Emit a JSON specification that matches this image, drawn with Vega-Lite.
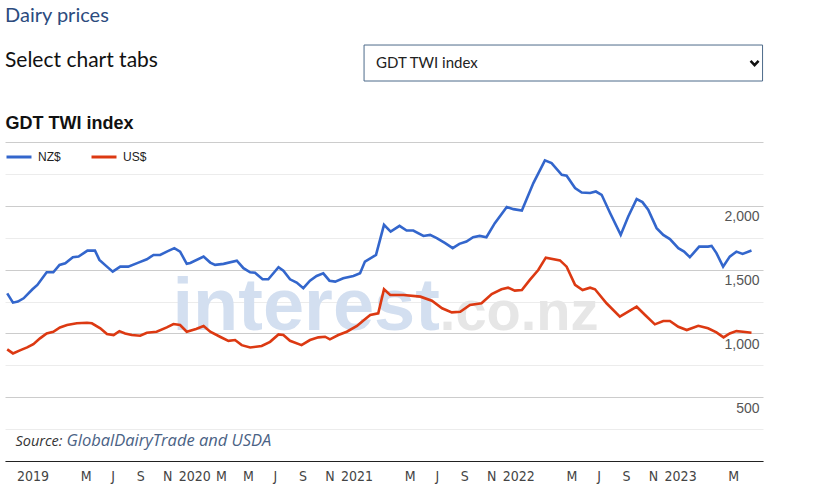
{
"$schema":"https://vega.github.io/schema/vega-lite/v6.json",
"width":758,"height":319,
"autosize":{"type":"none"},
"padding":{"left":5,"top":142,"right":55,"bottom":25},
"background":"white",
"title":{"text":"Dairy prices","subtitle":"Select chart tabs","anchor":"start","frame":"group","font":"Lato","fontSize":20,"fontWeight":"normal","color":"#2c4b7e","subtitleFont":"Lato","subtitleFontSize":21,"subtitleColor":"#111111","subtitlePadding":24,"offset":-26},
"config":{"view":{"stroke":null},"font":"Liberation Sans"},
"datasets":{"prices":[
{"date":"2018-11-05","series":"NZ$","value":1314},{"date":"2018-11-18","series":"NZ$","value":1241},{"date":"2018-11-29","series":"NZ$","value":1249},{"date":"2018-12-12","series":"NZ$","value":1275},{"date":"2019-01-01","series":"NZ$","value":1346},{"date":"2019-01-12","series":"NZ$","value":1380},{"date":"2019-02-02","series":"NZ$","value":1479},{"date":"2019-02-17","series":"NZ$","value":1479},{"date":"2019-03-03","series":"NZ$","value":1537},{"date":"2019-03-16","series":"NZ$","value":1550},{"date":"2019-04-02","series":"NZ$","value":1597},{"date":"2019-04-15","series":"NZ$","value":1602},{"date":"2019-05-05","series":"NZ$","value":1649},{"date":"2019-05-22","series":"NZ$","value":1649},{"date":"2019-06-01","series":"NZ$","value":1576},{"date":"2019-06-16","series":"NZ$","value":1529},{"date":"2019-07-01","series":"NZ$","value":1484},{"date":"2019-07-18","series":"NZ$","value":1523},{"date":"2019-08-05","series":"NZ$","value":1523},{"date":"2019-08-28","series":"NZ$","value":1555},{"date":"2019-09-16","series":"NZ$","value":1581},{"date":"2019-10-01","series":"NZ$","value":1615},{"date":"2019-10-16","series":"NZ$","value":1615},{"date":"2019-10-31","series":"NZ$","value":1641},{"date":"2019-11-17","series":"NZ$","value":1668},{"date":"2019-11-30","series":"NZ$","value":1641},{"date":"2019-12-15","series":"NZ$","value":1545},{"date":"2019-12-23","series":"NZ$","value":1552},{"date":"2020-01-22","series":"NZ$","value":1602},{"date":"2020-02-06","series":"NZ$","value":1555},{"date":"2020-02-17","series":"NZ$","value":1537},{"date":"2020-03-07","series":"NZ$","value":1545},{"date":"2020-04-06","series":"NZ$","value":1570},{"date":"2020-04-21","series":"NZ$","value":1511},{"date":"2020-05-06","series":"NZ$","value":1479},{"date":"2020-05-17","series":"NZ$","value":1476},{"date":"2020-06-03","series":"NZ$","value":1424},{"date":"2020-06-16","series":"NZ$","value":1424},{"date":"2020-07-09","series":"NZ$","value":1519},{"date":"2020-07-20","series":"NZ$","value":1492},{"date":"2020-08-04","series":"NZ$","value":1424},{"date":"2020-08-19","series":"NZ$","value":1398},{"date":"2020-09-03","series":"NZ$","value":1354},{"date":"2020-09-18","series":"NZ$","value":1413},{"date":"2020-10-03","series":"NZ$","value":1450},{"date":"2020-10-18","series":"NZ$","value":1471},{"date":"2020-11-01","series":"NZ$","value":1413},{"date":"2020-11-14","series":"NZ$","value":1406},{"date":"2020-12-02","series":"NZ$","value":1432},{"date":"2020-12-25","series":"NZ$","value":1450},{"date":"2021-01-09","series":"NZ$","value":1471},{"date":"2021-01-20","series":"NZ$","value":1563},{"date":"2021-02-14","series":"NZ$","value":1615},{"date":"2021-03-04","series":"NZ$","value":1851},{"date":"2021-03-19","series":"NZ$","value":1798},{"date":"2021-04-08","series":"NZ$","value":1843},{"date":"2021-04-24","series":"NZ$","value":1806},{"date":"2021-05-09","series":"NZ$","value":1806},{"date":"2021-06-01","series":"NZ$","value":1764},{"date":"2021-06-16","series":"NZ$","value":1772},{"date":"2021-07-01","series":"NZ$","value":1746},{"date":"2021-07-20","series":"NZ$","value":1707},{"date":"2021-08-06","series":"NZ$","value":1668},{"date":"2021-08-21","series":"NZ$","value":1702},{"date":"2021-09-06","series":"NZ$","value":1720},{"date":"2021-09-21","series":"NZ$","value":1754},{"date":"2021-10-06","series":"NZ$","value":1764},{"date":"2021-10-21","series":"NZ$","value":1754},{"date":"2021-11-09","series":"NZ$","value":1864},{"date":"2021-12-06","series":"NZ$","value":1990},{"date":"2021-12-21","series":"NZ$","value":1974},{"date":"2022-01-09","series":"NZ$","value":1963},{"date":"2022-02-04","series":"NZ$","value":2178},{"date":"2022-03-02","series":"NZ$","value":2356},{"date":"2022-03-17","series":"NZ$","value":2335},{"date":"2022-04-09","series":"NZ$","value":2243},{"date":"2022-04-20","series":"NZ$","value":2236},{"date":"2022-05-09","series":"NZ$","value":2139},{"date":"2022-05-24","series":"NZ$","value":2104},{"date":"2022-06-12","series":"NZ$","value":2100},{"date":"2022-06-25","series":"NZ$","value":2112},{"date":"2022-07-08","series":"NZ$","value":2086},{"date":"2022-07-27","series":"NZ$","value":1943},{"date":"2022-08-20","series":"NZ$","value":1772},{"date":"2022-09-06","series":"NZ$","value":1916},{"date":"2022-09-25","series":"NZ$","value":2053},{"date":"2022-10-08","series":"NZ$","value":2029},{"date":"2022-10-21","series":"NZ$","value":1969},{"date":"2022-11-09","series":"NZ$","value":1825},{"date":"2022-11-24","series":"NZ$","value":1772},{"date":"2022-12-09","series":"NZ$","value":1739},{"date":"2022-12-28","series":"NZ$","value":1668},{"date":"2023-01-10","series":"NZ$","value":1641},{"date":"2023-01-23","series":"NZ$","value":1597},{"date":"2023-02-13","series":"NZ$","value":1680},{"date":"2023-03-05","series":"NZ$","value":1680},{"date":"2023-03-13","series":"NZ$","value":1686},{"date":"2023-03-24","series":"NZ$","value":1629},{"date":"2023-04-08","series":"NZ$","value":1523},{"date":"2023-04-23","series":"NZ$","value":1602},{"date":"2023-05-08","series":"NZ$","value":1641},{"date":"2023-05-22","series":"NZ$","value":1623},{"date":"2023-06-11","series":"NZ$","value":1649},
{"date":"2018-11-05","series":"US$","value":875},{"date":"2018-11-18","series":"US$","value":843},{"date":"2018-12-05","series":"US$","value":869},{"date":"2018-12-20","series":"US$","value":890},{"date":"2019-01-03","series":"US$","value":916},{"date":"2019-01-18","series":"US$","value":961},{"date":"2019-02-02","series":"US$","value":1000},{"date":"2019-02-17","series":"US$","value":1013},{"date":"2019-03-04","series":"US$","value":1047},{"date":"2019-03-20","series":"US$","value":1066},{"date":"2019-04-11","series":"US$","value":1079},{"date":"2019-05-04","series":"US$","value":1084},{"date":"2019-05-15","series":"US$","value":1079},{"date":"2019-06-03","series":"US$","value":1040},{"date":"2019-06-18","series":"US$","value":995},{"date":"2019-07-03","series":"US$","value":987},{"date":"2019-07-16","series":"US$","value":1018},{"date":"2019-07-29","series":"US$","value":1000},{"date":"2019-08-13","series":"US$","value":987},{"date":"2019-09-01","series":"US$","value":982},{"date":"2019-09-16","series":"US$","value":1005},{"date":"2019-10-08","series":"US$","value":1013},{"date":"2019-10-31","series":"US$","value":1047},{"date":"2019-11-15","series":"US$","value":1073},{"date":"2019-11-30","series":"US$","value":1066},{"date":"2019-12-15","series":"US$","value":1013},{"date":"2020-01-05","series":"US$","value":1035},{"date":"2020-01-22","series":"US$","value":1058},{"date":"2020-02-06","series":"US$","value":1013},{"date":"2020-02-28","series":"US$","value":974},{"date":"2020-03-18","series":"US$","value":942},{"date":"2020-04-02","series":"US$","value":948},{"date":"2020-04-17","series":"US$","value":908},{"date":"2020-05-06","series":"US$","value":890},{"date":"2020-06-01","series":"US$","value":901},{"date":"2020-06-20","series":"US$","value":934},{"date":"2020-07-09","series":"US$","value":992},{"date":"2020-07-20","series":"US$","value":987},{"date":"2020-08-04","series":"US$","value":942},{"date":"2020-08-30","series":"US$","value":908},{"date":"2020-09-18","series":"US$","value":948},{"date":"2020-10-07","series":"US$","value":969},{"date":"2020-10-22","series":"US$","value":974},{"date":"2020-11-02","series":"US$","value":953},{"date":"2020-11-21","series":"US$","value":987},{"date":"2020-12-10","series":"US$","value":1013},{"date":"2021-01-02","series":"US$","value":1058},{"date":"2021-01-20","series":"US$","value":1110},{"date":"2021-02-01","series":"US$","value":1144},{"date":"2021-02-19","series":"US$","value":1157},{"date":"2021-03-04","series":"US$","value":1346},{"date":"2021-03-18","series":"US$","value":1301},{"date":"2021-04-17","series":"US$","value":1301},{"date":"2021-05-25","series":"US$","value":1288},{"date":"2021-06-20","series":"US$","value":1256},{"date":"2021-07-13","series":"US$","value":1197},{"date":"2021-08-04","series":"US$","value":1165},{"date":"2021-08-23","series":"US$","value":1170},{"date":"2021-09-14","series":"US$","value":1223},{"date":"2021-10-10","series":"US$","value":1236},{"date":"2021-11-02","series":"US$","value":1309},{"date":"2021-11-24","series":"US$","value":1346},{"date":"2021-12-09","series":"US$","value":1358},{"date":"2021-12-24","series":"US$","value":1335},{"date":"2022-01-09","series":"US$","value":1340},{"date":"2022-01-27","series":"US$","value":1419},{"date":"2022-02-15","series":"US$","value":1497},{"date":"2022-03-04","series":"US$","value":1594},{"date":"2022-04-05","series":"US$","value":1572},{"date":"2022-04-20","series":"US$","value":1523},{"date":"2022-05-09","series":"US$","value":1380},{"date":"2022-05-26","series":"US$","value":1340},{"date":"2022-06-12","series":"US$","value":1358},{"date":"2022-06-23","series":"US$","value":1346},{"date":"2022-07-19","series":"US$","value":1236},{"date":"2022-08-18","series":"US$","value":1131},{"date":"2022-09-06","series":"US$","value":1170},{"date":"2022-09-25","series":"US$","value":1209},{"date":"2022-10-14","series":"US$","value":1144},{"date":"2022-11-05","series":"US$","value":1071},{"date":"2022-11-24","series":"US$","value":1097},{"date":"2022-12-09","series":"US$","value":1097},{"date":"2022-12-28","series":"US$","value":1052},{"date":"2023-01-16","series":"US$","value":1026},{"date":"2023-02-11","series":"US$","value":1060},{"date":"2023-03-05","series":"US$","value":1040},{"date":"2023-03-24","series":"US$","value":1008},{"date":"2023-04-09","series":"US$","value":969},{"date":"2023-04-23","series":"US$","value":1000},{"date":"2023-05-08","series":"US$","value":1018},{"date":"2023-05-23","series":"US$","value":1013},{"date":"2023-06-11","series":"US$","value":1005}
]},
"layer":[
{"data":{"values":[{}]},
 "mark":{"type":"text","text":"interest","font":"Liberation Sans","fontWeight":"bold","fontSize":74,"color":"#d3dff0","align":"right","baseline":"alphabetic"},
 "encoding":{"x":{"datum":{"year":2021,"month":7,"date":8,"utc":true},"type":"temporal","axis":null,"scale":{"type":"utc","domain":[{"year":2018,"month":10,"date":31,"utc":true},{"year":2023,"month":7,"date":7,"utc":true}]}},
  "y":{"datum":1027,"type":"quantitative","axis":null,"scale":{"domain":[0,2500],"nice":false,"zero":false}}}},
{"data":{"values":[{}]},
 "mark":{"type":"text","text":".co.nz","font":"Liberation Sans","fontWeight":"bold","fontSize":56,"color":"#e6e6e6","align":"left","baseline":"alphabetic"},
 "encoding":{"x":{"datum":{"year":2021,"month":7,"date":8,"utc":true},"type":"temporal","axis":null},
  "y":{"datum":1027,"type":"quantitative","axis":null}}},
{"data":{"values":[{}]},
 "mark":{"type":"rect","fill":"white","stroke":"#4d6a8a","strokeWidth":1},
 "encoding":{"x":{"datum":{"year":2021,"month":1,"date":18,"utc":true},"type":"temporal","axis":null},
  "x2":{"datum":{"year":2023,"month":7,"date":6,"utc":true}},
  "y":{"datum":3260,"type":"quantitative","axis":null},"y2":{"datum":2978}}},
{"data":{"values":[{}]},
 "mark":{"type":"text","text":"GDT TWI index","font":"Lato","fontSize":15,"color":"#222222","align":"left","baseline":"middle"},
 "encoding":{"x":{"datum":{"year":2021,"month":2,"date":14,"utc":true},"type":"temporal","axis":null},
  "y":{"datum":3119,"type":"quantitative","axis":null}}},
{"data":{"values":[{}]},
 "mark":{"type":"point","shape":"M -1 -0.55 L 0 0.55 L 1 -0.55","filled":false,"size":64,"strokeWidth":2.5,"color":"#111111","opacity":1},
 "encoding":{"x":{"datum":{"year":2023,"month":6,"date":18,"utc":true},"type":"temporal","axis":null},
  "y":{"datum":3119,"type":"quantitative","axis":null}}},
{"data":{"name":"prices"},
 "mark":{"type":"line","opacity":0},
 "encoding":{
  "x":{"field":"date","type":"temporal","scale":{"type":"utc","domain":[{"year":2018,"month":10,"date":31,"utc":true},{"year":2023,"month":7,"date":7,"utc":true}]},
   "axis":{"orient":"top","labels":false,"ticks":false,"domain":false,"grid":false,"title":"GlobalDairyTrade and USDA","titleFont":"Open Sans","titleFontStyle":"italic","titleFontWeight":"normal","titleFontSize":16.5,"titleColor":"#4a6285","titleX":61,"titleY":303,"titleAlign":"left","titleBaseline":"alphabetic"}},
  "y":{"field":"value","type":"quantitative","scale":{"domain":[0,2500],"nice":false,"zero":false},
   "axis":{"orient":"left","values":[250,750,1250,1750,2250],"grid":true,"gridColor":"#ececec","labels":false,"ticks":false,"domain":false,"title":"GDT TWI index","titleAngle":0,"titleX":0,"titleY":-14,"titleAlign":"left","titleBaseline":"alphabetic","titleFont":"Liberation Sans","titleFontSize":18,"titleFontWeight":"bold","titleColor":"#111111"}},
  "detail":{"field":"series"}}},
{"data":{"name":"prices"},
 "mark":{"type":"line","strokeWidth":2.6},
 "encoding":{
  "x":{"field":"date","type":"temporal","scale":{"type":"utc","domain":[{"year":2018,"month":10,"date":31,"utc":true},{"year":2023,"month":7,"date":7,"utc":true}]},
   "axis":{"orient":"bottom","values":[{"year":2019,"month":1,"date":1,"utc":true},{"year":2019,"month":5,"date":1,"utc":true},{"year":2019,"month":7,"date":1,"utc":true},{"year":2019,"month":9,"date":1,"utc":true},{"year":2019,"month":11,"date":1,"utc":true},{"year":2020,"month":1,"date":1,"utc":true},{"year":2020,"month":3,"date":1,"utc":true},{"year":2020,"month":5,"date":1,"utc":true},{"year":2020,"month":7,"date":1,"utc":true},{"year":2020,"month":9,"date":1,"utc":true},{"year":2020,"month":11,"date":1,"utc":true},{"year":2021,"month":1,"date":1,"utc":true},{"year":2021,"month":5,"date":1,"utc":true},{"year":2021,"month":7,"date":1,"utc":true},{"year":2021,"month":9,"date":1,"utc":true},{"year":2021,"month":11,"date":1,"utc":true},{"year":2022,"month":1,"date":1,"utc":true},{"year":2022,"month":5,"date":1,"utc":true},{"year":2022,"month":7,"date":1,"utc":true},{"year":2022,"month":9,"date":1,"utc":true},{"year":2022,"month":11,"date":1,"utc":true},{"year":2023,"month":1,"date":1,"utc":true},{"year":2023,"month":5,"date":1,"utc":true}],
    "labelExpr":"utcFormat(datum.value,'%m')=='01' ? utcFormat(datum.value,'%Y') : substring(utcFormat(datum.value,'%b'),0,1)",
    "labelFont":"DejaVu Sans Condensed, Liberation Sans, sans-serif","labelFontSize":14,"labelColor":"#444444","labelPadding":8,"labelOverlap":false,"labelFlush":false,
    "ticks":false,"tickSize":0,"grid":false,"domain":true,"domainColor":"#222222","domainWidth":1,
    "title":"Source:","titleFont":"Open Sans","titleFontStyle":"italic","titleFontWeight":"normal","titleFontSize":14.5,"titleColor":"#333333","titleX":10,"titleY":-16,"titleAlign":"left","titleBaseline":"alphabetic"}},
  "y":{"field":"value","type":"quantitative","scale":{"domain":[0,2500],"nice":false,"zero":false},
   "axis":{"orient":"right","values":[0,500,1000,1500,2000,2500],"grid":true,"gridColor":"#cccccc","domain":false,"ticks":false,"tickSize":0,"labelAlign":"right","labelBaseline":"top","labelPadding":-4,"labelOffset":4,"labelFont":"Liberation Sans","labelFontSize":14,"labelColor":"#555555","labelExpr":"datum.value>0 && datum.value<2500 ? format(datum.value, ',') : ''","title":null}},
  "color":{"field":"series","type":"nominal","scale":{"domain":["NZ$","US$"],"range":["#3366cc","#dc3912"]},
   "legend":{"orient":"none","legendX":0,"legendY":1,"direction":"horizontal","title":null,"symbolType":"stroke","symbolStrokeWidth":3,"symbolSize":625,"labelFont":"Liberation Sans","labelFontSize":12,"labelColor":"#222222","labelOffset":5,"columnPadding":24,"padding":0}}}}
],
"resolve":{"axis":{"x":"independent","y":"independent"}}
}
